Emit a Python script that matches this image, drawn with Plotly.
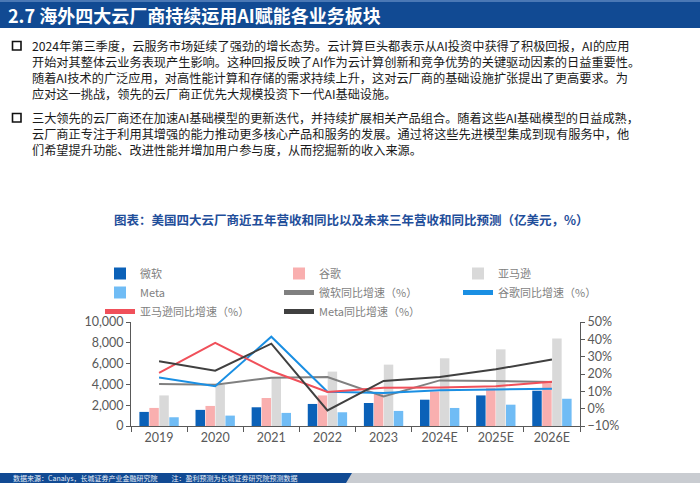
import plotly.graph_objects as go

# ---------------- data ----------------
years = ["2019", "2020", "2021", "2022", "2023", "2024E", "2025E", "2026E"]
rev_msft = [1355, 1550, 1800, 2120, 2210, 2530, 2940, 3390]
rev_goog = [1737, 1930, 2690, 2940, 3070, 3320, 3640, 4280]
rev_amzn = [2940, 3960, 4600, 5230, 5900, 6510, 7370, 8420]
rev_meta = [840, 1000, 1260, 1320, 1450, 1735, 2050, 2620]
yoy_msft = [14.2, 13.8, 17.9, 18.2, 7.0, 16.3, 15.9, 15.4]
yoy_goog = [18.0, 12.9, 41.5, 9.8, 9.0, 10.6, 11.1, 11.5]
yoy_amzn = [20.7, 38.0, 21.7, 9.6, 12.0, 12.2, 13.0, 15.6]
yoy_meta = [27.3, 21.9, 37.5, -1.0, 16.0, 18.3, 22.7, 28.4]

bar_names = ["微软", "谷歌", "亚马逊", "Meta"]
line_names = ["微软同比增速（%）", "谷歌同比增速（%）", "亚马逊同比增速（%）", "Meta同比增速（%）"]

title_text = "2.7 海外四大云厂商持续运用<b>AI</b>赋能各业务板块"
bullet1 = [
    "2024年第三季度，云服务市场延续了强劲的增长态势。云计算巨头都表示从AI投资中获得了积极回报，AI的应用",
    "开始对其整体云业务表现产生影响。这种回报反映了AI作为云计算创新和竞争优势的关键驱动因素的日益重要性。",
    "随着AI技术的广泛应用，对高性能计算和存储的需求持续上升，这对云厂商的基础设施扩张提出了更高要求。为",
    "应对这一挑战，领先的云厂商正优先大规模投资下一代AI基础设施。",
]
bullet2 = [
    "三大领先的云厂商还在加速AI基础模型的更新迭代，并持续扩展相关产品组合。随着这些AI基础模型的日益成熟，",
    "云厂商正专注于利用其增强的能力推动更多核心产品和服务的发展。通过将这些先进模型集成到现有服务中，他",
    "们希望提升功能、改进性能并增加用户参与度，从而挖掘新的收入来源。",
]
chart_title = "图表：美国四大云厂商近五年营收和同比以及未来三年营收和同比预测（亿美元，%）"
footer_text = "数据来源：Canalys，长城证券产业金融研究院　　注：盈利预测为长城证券研究院预测数据"

# ---------------- layout helpers ----------------
W, H = 700, 483
L, R, T, B = 131, 580, 322, 426


def px(x):
    return (x - L) / (R - L)


def py(y):
    return (B - y) / (B - T)


CJK = "Noto Sans CJK SC"
NUM = "Lato, Noto Sans CJK SC"

bar_colors = ["#0B61B8", "#F9AFAF", "#D9D9D9", "#70BCF5"]
line_colors = ["#808080", "#1A8FE3", "#F0505A", "#404040"]

fig = go.Figure()
for name, vals, col in zip(bar_names, [rev_msft, rev_goog, rev_amzn, rev_meta], bar_colors):
    fig.add_trace(go.Bar(x=years, y=vals, name=name, marker=dict(color=col, line=dict(width=0))))
for name, vals, col in zip(line_names, [yoy_msft, yoy_goog, yoy_amzn, yoy_meta], line_colors):
    fig.add_trace(go.Scatter(x=years, y=vals, name=name, mode="lines", yaxis="y2",
                             line=dict(color=col, width=2)))

shapes = []
annotations = []

# title bar
shapes.append(dict(type="rect", xref="paper", yref="paper", x0=px(0), x1=px(W), y0=py(0), y1=py(28),
                   fillcolor="#114A93", line=dict(width=0), layer="below"))
shapes.append(dict(type="rect", xref="paper", yref="paper", x0=px(0), x1=px(W), y0=py(0), y1=py(2),
                   fillcolor="#4A78B5", line=dict(width=0), layer="below"))
annotations.append(dict(text="<b>" + title_text + "</b>", xref="paper", yref="paper", x=px(6), y=py(15),
                        xanchor="left", yanchor="middle", showarrow=False,
                        font=dict(family=CJK, size=18, color="white")))


# bullets (one multi-line text block each)
def add_bullet(lines, y0):
    shapes.append(dict(type="rect", xref="paper", yref="paper", x0=px(12.5), x1=px(21), y0=py(y0 - 4.5),
                       y1=py(y0 + 4), line=dict(color="#111111", width=1.6), fillcolor="rgba(0,0,0,0)"))
    mid = y0 + 16 * (len(lines) - 1) / 2
    annotations.append(dict(text="<br>".join(lines), xref="paper", yref="paper", x=px(31), y=py(mid),
                            xanchor="left", yanchor="middle", align="left", showarrow=False, borderpad=0,
                            font=dict(family=CJK, size=12.2, color="#1a1a1a")))


add_bullet(bullet1, 46)
add_bullet(bullet2, 118)

# chart title
annotations.append(dict(text="<b>" + chart_title + "</b>", xref="paper", yref="paper", x=px(351), y=py(219),
                        xanchor="center", yanchor="middle", showarrow=False,
                        font=dict(family=CJK, size=12.5, color="#1F4E9A")))

# footer
shapes.append(dict(type="path", xref="paper", yref="paper",
                   path=f"M {px(350)},{py(473)} L {px(W)},{py(473)} L {px(W)},{py(483)} L {px(344)},{py(483)} Z",
                   fillcolor="#C9CCD1", line=dict(width=0), layer="below"))
shapes.append(dict(type="path", xref="paper", yref="paper",
                   path=f"M {px(0)},{py(473)} L {px(352)},{py(473)} L {px(346)},{py(483)} L {px(0)},{py(483)} Z",
                   fillcolor="#114A93", line=dict(width=0), layer="below"))
annotations.append(dict(text=footer_text, xref="paper", yref="paper", x=px(12), y=py(478),
                        xanchor="left", yanchor="middle", showarrow=False, borderpad=0,
                        font=dict(family=CJK, size=7, color="#E8EEF8")))

axis_col = "#595959"
fig.update_layout(
    width=W, height=H, autosize=False,
    margin=dict(l=L, r=W - R, t=T, b=H - B, pad=0, autoexpand=False),
    paper_bgcolor="white", plot_bgcolor="rgba(0,0,0,0)",
    barmode="group", bargap=0.29, bargroupgap=0.05,
    showlegend=True,
    legend=dict(orientation="h", x=px(100), y=py(259), xanchor="left", yanchor="top",
                entrywidth=134, entrywidthmode="pixels", traceorder="normal",
                font=dict(family=CJK, size=11, color="#7F7F7F"), bgcolor="rgba(0,0,0,0)",
                itemsizing="constant"),
    xaxis=dict(type="category", showline=True, linecolor=axis_col, linewidth=1,
               ticks="outside", tickson="boundaries", ticklen=5, tickcolor=axis_col,
               tickfont=dict(family=NUM, size=12.5, color=axis_col), showgrid=False, zeroline=False),
    yaxis=dict(range=[0, 10000], dtick=2000, tickformat=",", showline=True, linecolor=axis_col,
               ticks="outside", ticklen=4, tickcolor=axis_col, showgrid=False, zeroline=False,
               tickfont=dict(family=NUM, size=12.5, color=axis_col)),
    yaxis2=dict(range=[-10, 50], dtick=10, ticksuffix="%", overlaying="y", side="right",
                showline=True, linecolor=axis_col, ticks="outside", ticklen=4, tickcolor=axis_col,
                showgrid=False, zeroline=False,
                tickfont=dict(family=NUM, size=12.5, color=axis_col)),
    shapes=shapes, annotations=annotations,
)

fig.write_html("out.html", config={"displayModeBar": False},
               post_script="document.body.style.margin='0';document.body.style.overflow='hidden';")
